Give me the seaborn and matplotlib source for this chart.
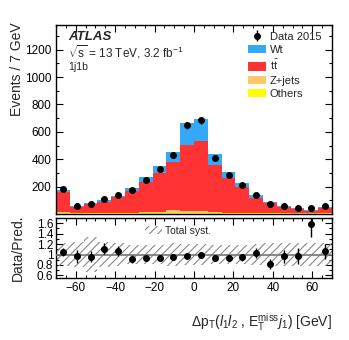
import numpy as np
import pandas as pd
import matplotlib
matplotlib.use("Agg")
import matplotlib.pyplot as plt
from matplotlib.patches import Patch
from matplotlib.ticker import MultipleLocator, FormatStrFormatter
import seaborn as sns

# ---------------- data ----------------
bin_edges = [-70, -63, -56, -49, -42, -35, -28, -21, -14, -7, 0,
             7, 14, 21, 28, 35, 42, 49, 56, 63, 70]
others = [8, 5, 5, 5, 6, 6, 6, 7, 8, 8, 8, 7, 6, 5, 5, 4, 4, 3, 3, 4]
zjets = [4, 2, 2, 3, 3, 4, 5, 8, 24, 14, 12, 4, 3, 2, 2, 2, 1, 1, 1, 2]
ttbar = [150, 42, 63, 82, 112, 157, 224, 281, 344, 485, 513, 350, 255, 187,
         112, 72, 48, 32, 18, 35]
wt = [13, 8, 8, 9, 9, 22, 35, 53, 76, 155, 161, 75, 40, 32, 17, 8, 7, 7, 4, 11]
data = [182, 55, 75, 110, 139, 173, 251, 328, 430, 648, 684, 408, 282, 214,
        140, 70, 58, 42, 41, 55]
syst = [0.22, 0.23, 0.33, 0.23, 0.22, 0.19, 0.19, 0.19, 0.22, 0.20, 0.20,
        0.19, 0.19, 0.19, 0.21, 0.22, 0.22, 0.22, 0.22, 0.22]
processes = ["Wt", "t$\\bar{\\mathrm{t}}$", "Z+jets", "Others"]
colors = ["#33aaf5", "#ff3333", "#ffc766", "#ffff00"]

# ---------------- style ----------------
sns.set_style("ticks")
plt.rcParams["font.family"] = ["Liberation Sans", "DejaVu Sans"]
plt.rcParams["mathtext.fontset"] = "custom"
plt.rcParams["mathtext.rm"] = "Liberation Sans"
plt.rcParams["mathtext.it"] = "Liberation Sans:italic"
plt.rcParams["mathtext.bf"] = "Liberation Sans:bold"
plt.rcParams["hatch.linewidth"] = 0.8

edges = np.array(bin_edges, dtype=float)
centers = 0.5 * (edges[:-1] + edges[1:])
widths = np.diff(edges)
comp = {"Wt": wt, processes[1]: ttbar, "Z+jets": zjets, "Others": others}
rows = []
for p in processes:
    for c, v in zip(centers, comp[p]):
        rows.append({"x": c, "w": v, "proc": p})
df = pd.DataFrame(rows)
pred = np.array(wt) + np.array(ttbar) + np.array(zjets) + np.array(others)
data_a = np.array(data, dtype=float)

fig = plt.figure(figsize=(3.49, 3.40), dpi=100)
ax = fig.add_axes([0.1605, 0.3706, 0.7908, 0.5559])
axr = fig.add_axes([0.1605, 0.1824, 0.7908, 0.1765])

pal = dict(zip(processes, colors))
sns.histplot(data=df, x="x", weights="w", hue="proc", hue_order=processes,
             multiple="stack", binwidth=widths[0],
             binrange=(bin_edges[0], bin_edges[-1]), palette=pal, alpha=1.0,
             linewidth=0, element="bars", legend=False, ax=ax)

eb = ax.errorbar(centers, data_a, yerr=np.sqrt(data_a), fmt="o", color="black",
                 ms=4, elinewidth=1.0, capsize=0, zorder=5)

ax.set_xlim(-70, 70)
ax.set_ylim(0, 1380)
ax.set_xlabel("")
ax.set_ylabel("Events / 7 GeV", loc="top", fontsize=10)
ax.yaxis.set_label_coords(-0.115, 1.015)
ax.tick_params(labelbottom=False)

ax.text(0.0435, 0.937, "ATLAS", transform=ax.transAxes, fontsize=9.5,
        fontweight="bold", fontstyle="italic", va="center", ha="left")
ax.text(0.0435, 0.857, r"$\sqrt{\mathrm{s}}$ = 13 TeV, 3.2 fb$^{-1}$",
        transform=ax.transAxes, fontsize=8.5, va="center", ha="left")
ax.text(0.0435, 0.778, "1j1b", transform=ax.transAxes, fontsize=7.5,
        va="center", ha="left")

handles = [eb] + [Patch(facecolor=c, edgecolor="none") for c in colors]
labels = ["Data 2015"] + processes
ax.legend(handles, labels, loc="upper left", bbox_to_anchor=(0.696, 0.965),
          frameon=False, fontsize=8, handlelength=1.65, handleheight=0.75,
          handletextpad=0.3, labelspacing=0.3, borderpad=0, borderaxespad=0)

# ---------------- ratio ----------------
axr.bar(centers, 2 * np.array(syst), bottom=1 - np.array(syst), width=widths,
        fill=False, hatch="////", edgecolor="#888888", linewidth=0,
        label="Total syst.")
axr.axhline(1.0, color="#777777", lw=1.2, zorder=3)
ratio = data_a / pred
axr.errorbar(centers, ratio, yerr=np.sqrt(data_a) / pred, fmt="o",
             color="black", ms=4, elinewidth=1.0, capsize=0, zorder=5)
axr.set_xlim(-70, 70)
axr.set_ylim(0.55, 1.7)
axr.set_yticks([0.6, 0.8, 1.0, 1.2, 1.4, 1.6])
axr.yaxis.set_major_formatter(FormatStrFormatter("%g"))
axr.set_ylabel("Data/Pred.", fontsize=10)
axr.yaxis.set_label_coords(-0.112, 0.5)
axr.set_xlabel(r"$\Delta$p$_{\mathrm{T}}$($l_{1}l_{2}$ , E$_{\mathrm{T}}^{\mathrm{miss}}$$j_{1}$) [GeV]",
               fontsize=10, loc="right")
axr.xaxis.set_label_coords(1.0, -0.55)
axr.legend(loc="upper left", bbox_to_anchor=(0.322, 0.87), frameon=False,
           fontsize=7.5, handlelength=1.6, handleheight=0.7,
           handletextpad=0.3, borderpad=0, borderaxespad=0)

for a in (ax, axr):
    a.xaxis.set_major_locator(MultipleLocator(20))
    a.xaxis.set_minor_locator(MultipleLocator(5))
    a.tick_params(which="both", direction="in", top=True, right=True,
                  labelsize=8.5, width=0.8, colors="black")
    a.tick_params(which="major", length=5)
    a.tick_params(which="minor", length=2.5)
    for s in a.spines.values():
        s.set_linewidth(1.0)
        s.set_color("black")
ax.yaxis.set_major_locator(MultipleLocator(200))
ax.yaxis.set_minor_locator(MultipleLocator(100))
ax.set_yticks([200, 400, 600, 800, 1000, 1200])
axr.yaxis.set_minor_locator(MultipleLocator(0.1))
axr.tick_params(axis="x", pad=3)
axr.tick_params(axis="y", pad=2)

fig.savefig("out.png", dpi=100)
